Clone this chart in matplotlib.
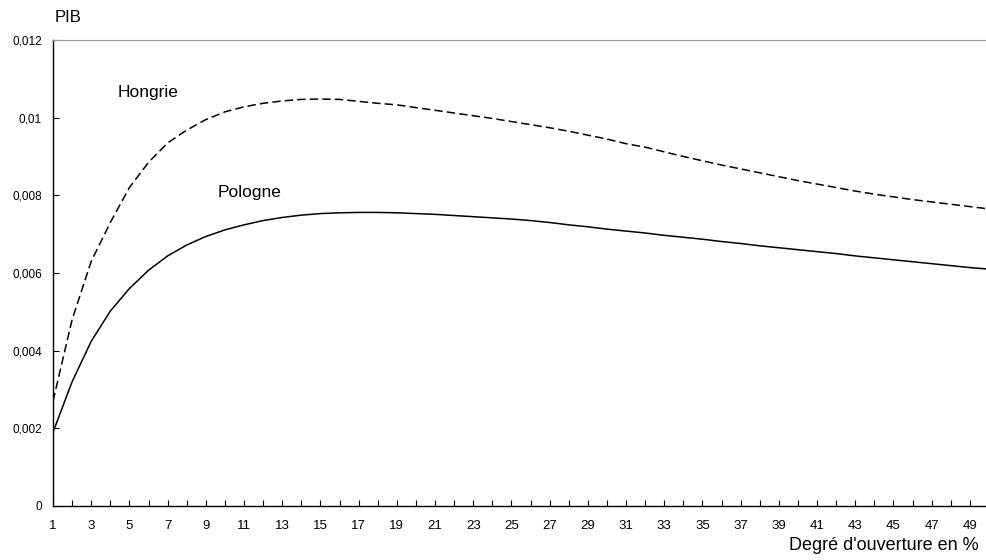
import matplotlib
matplotlib.use("Agg")
import matplotlib.pyplot as plt
from matplotlib.ticker import FuncFormatter, MultipleLocator

plt.rcParams['font.family'] = ['Liberation Sans', 'DejaVu Sans']

# degré d'ouverture (%)
ouverture = list(range(1, 51))

pologne = [0.0019, 0.0032, 0.00424, 0.00502, 0.0056, 0.00607, 0.00644, 0.00672, 0.00694, 0.00711,
           0.00724, 0.00735, 0.00743, 0.00749, 0.00753, 0.00755, 0.00756, 0.00756, 0.00755, 0.00753,
           0.00751, 0.00748, 0.00745, 0.00742, 0.00739, 0.00735, 0.0073, 0.00724, 0.00719, 0.00713,
           0.00708, 0.00703, 0.00697, 0.00692, 0.00687, 0.00681, 0.00676, 0.0067, 0.00665, 0.0066,
           0.00655, 0.0065, 0.00644, 0.00639, 0.00634, 0.00629, 0.00624, 0.00619, 0.00614, 0.0061]

hongrie = [0.0027, 0.0048, 0.0063, 0.0073, 0.0082, 0.00885, 0.00935, 0.00968, 0.00995, 0.01015,
           0.01028, 0.01037, 0.01043, 0.01047, 0.01048, 0.01047, 0.01042, 0.01037, 0.01033, 0.01026,
           0.01019, 0.01012, 0.01005, 0.00998, 0.0099, 0.00982, 0.00974, 0.00965, 0.00955, 0.00945,
           0.00933, 0.00924, 0.00912, 0.009, 0.00889, 0.00878, 0.00868, 0.00858, 0.00848, 0.00838,
           0.00829, 0.0082, 0.00811, 0.00803, 0.00796, 0.00789, 0.00783, 0.00777, 0.00771, 0.00765]

fig = plt.figure(figsize=(9.86, 5.6), dpi=100)
ax = fig.add_axes([53 / 986, 1 - 506 / 560, 936 / 986, 466 / 560])

ax.plot(ouverture, hongrie, color='black', lw=1.1, dashes=(5.5, 2.7))
ax.plot(ouverture, pologne, color='black', lw=1.1)

ax.set_xlim(1, 50)
ax.set_ylim(0, 0.012)

ax.xaxis.set_minor_locator(MultipleLocator(1))
ax.set_xticks(range(1, 50, 2))
ax.tick_params(axis='x', which='both', direction='in', length=4, width=0.8, pad=10, labelsize=9.5)
ax.tick_params(axis='y', direction='in', length=4, width=0.8, pad=8, labelsize=8.5)

ax.set_yticks([0, 0.002, 0.004, 0.006, 0.008, 0.01, 0.012])
ax.yaxis.set_major_formatter(FuncFormatter(lambda v, p: '0' if v == 0 else ('%g' % round(v, 4)).replace('.', ',')))

ax.spines['top'].set_color('#999999')
ax.spines['right'].set_visible(False)
for s in ('left', 'bottom'):
    ax.spines[s].set_linewidth(1.0)

ax.text(4.4, 0.01066, 'Hongrie', fontsize=12.5, va='center')
ax.text(9.64, 0.00808, 'Pologne', fontsize=12.5, va='center')

fig.text(55 / 986, 1 - 17 / 560, 'PIB', fontsize=12, va='center')
fig.text(979 / 986, 1 - 545 / 560, "Degré d'ouverture en %", fontsize=13, ha='right', va='center')

fig.savefig('out.png', dpi=100)
